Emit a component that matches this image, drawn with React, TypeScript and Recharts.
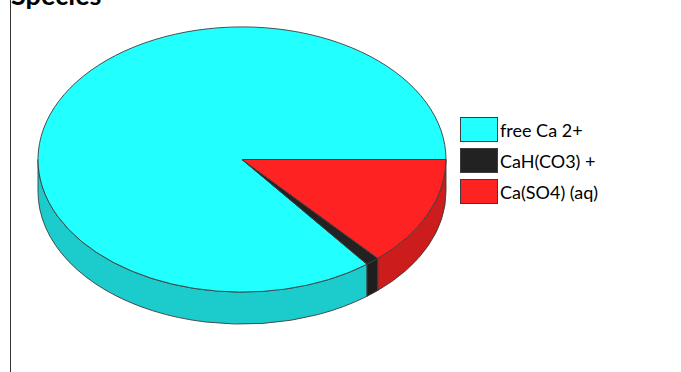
import { PieChart, Pie, Cell, Legend } from 'recharts';

const species = ['free Ca 2+', 'CaH(CO3) +', 'Ca(SO4) (aq)'];
const shares = [85.5, 1.1, 13.4];
const topColors = ['#22ffff', '#222222', '#ff2222'];
const sideColors = ['#1ccccc', '#1e1e1e', '#cc1c1c'];

const data = species.map((name, i) => ({ name, value: shares[i] }));

const W = 681;
const H = 372;
const TILT = 0.65; // ry / rx
const DEPTH = 32;
const EDGE = '#3c3c3c';

const RAD = Math.PI / 180;

// slice drawn as an ellipse sector with its front wall
const Slice3D = (props: any) => {
  const { cx, cy, outerRadius, startAngle, endAngle, fill, index } = props;
  const rx = outerRadius;
  const ry = outerRadius * TILT;
  const pt = (a: number, dy = 0) => [cx + rx * Math.cos(a * RAD), cy - ry * Math.sin(a * RAD) + dy];
  const s = Math.min(startAngle, endAngle);
  const e = Math.max(startAngle, endAngle);
  const [sx, sy] = pt(s);
  const [ex, ey] = pt(e);
  const large = e - s > 180 ? 1 : 0;
  const top = `M${cx},${cy} L${sx},${sy} A${rx},${ry} 0 ${large} 0 ${ex},${ey} Z`;

  let wall = null;
  const a1 = Math.max(s, 180);
  const a2 = Math.min(e, 360);
  if (a1 < a2) {
    const [x1, y1] = pt(a1);
    const [x2, y2] = pt(a2);
    const d = `M${x1},${y1} A${rx},${ry} 0 0 0 ${x2},${y2} L${x2},${y2 + DEPTH} A${rx},${ry} 0 0 1 ${x1},${y1 + DEPTH} Z`;
    wall = <path d={d} fill={sideColors[index] ?? fill} stroke={EDGE} strokeWidth={0.9} />;
  }
  return (
    <g>
      {wall}
      <path d={top} fill={fill} stroke={EDGE} strokeWidth={0.9} />
    </g>
  );
};

const LegendBox = () => (
  <div style={{ fontFamily: 'Lato, "Open Sans", sans-serif', fontSize: 18, color: '#000' }}>
    {species.map((name, i) => (
      <div key={name} style={{ display: 'flex', alignItems: 'center', height: 31 }}>
        <div
          style={{
            width: 36,
            height: 23,
            background: topColors[i],
            border: '1px solid #3c3c3c',
            marginRight: 2,
            flexShrink: 0,
          }}
        />
        <span>{name}</span>
      </div>
    ))}
  </div>
);

export default function App() {
  return (
    <div style={{ position: 'absolute', left: 0, top: 0, width: W, height: H, background: '#fff', overflow: 'hidden' }}>
      <svg width={W} height={40} style={{ position: 'absolute', left: 0, top: 0 }}>
        <text x={11} y={5} fontFamily='Lato, "Open Sans", sans-serif' fontSize={27} fontWeight="bold" fill="#000">
          Species
        </text>
      </svg>
      <div style={{ position: 'absolute', left: 10, top: 0, width: 1, height: H, background: '#333' }} />
      <PieChart
        width={W}
        height={H}
        margin={{ top: 0, right: 0, bottom: 0, left: 0 }}
        style={{ position: 'absolute', left: 0, top: 0 }}
      >
        <Pie
          data={data}
          dataKey="value"
          nameKey="name"
          cx={242}
          cy={159.5}
          outerRadius={204}
          startAngle={0}
          endAngle={360}
          stroke="none"
          isAnimationActive={false}
          shape={Slice3D}
          inactiveShape={Slice3D}
          activeShape={Slice3D}
        >
          {data.map((d, i) => (
            <Cell key={d.name} fill={topColors[i]} />
          ))}
        </Pie>
        <Legend
          layout="vertical"
          content={<LegendBox />}
          wrapperStyle={{ position: 'absolute', left: 460, top: 114, width: 200 }}
        />
      </PieChart>
    </div>
  );
}
